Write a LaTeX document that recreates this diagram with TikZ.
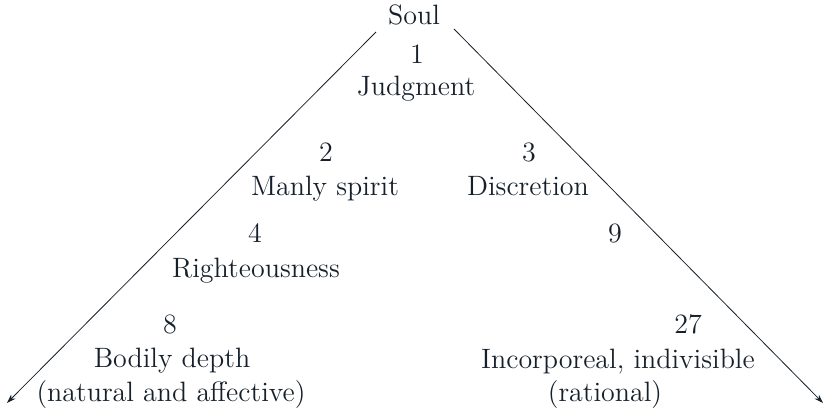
\documentclass[tikz,border=0pt]{standalone}
\usetikzlibrary{arrows.meta}
\definecolor{ink}{HTML}{15202B}
\begin{document}
\begin{tikzpicture}[x=0.5pt,y=-0.5pt,
  lbl/.style={inner sep=0pt,anchor=base,font=\fontsize{14}{16}\selectfont,text=ink},
  branch/.style={draw=ink,line width=0.4pt,-{Stealth[length=4.5pt,width=3pt]}}]
\useasboundingbox (0,0) rectangle (825,410);
\node[lbl] (soul) at (414,25) {Soul};
\node[lbl] (n1) at (417,64) {1};
\node[lbl] (judg) at (416,96) {Judgment};
\node[lbl] (n2) at (326,162) {2};
\node[lbl] (manly) at (325,196) {Manly spirit};
\node[lbl] (n3) at (529,162) {3};
\node[lbl] (disc) at (528,196) {Discretion};
\node[lbl] (n4) at (255,243) {4};
\node[lbl] (right) at (256,278) {Righteousness};
\node[lbl] (n9) at (615,243) {9};
\node[lbl] (n8) at (170,334) {8};
\node[lbl] (bodily) at (172,368) {Bodily depth};
\node[lbl] (nat) at (171,402) {(natural and affective)};
\node[lbl] (n27) at (688,334) {27};
\node[lbl] (incorp) at (618,369) {Incorporeal, indivisible};
\node[lbl] (rat) at (605,402) {(rational)};
\coordinate (ltop) at (376,32);
\coordinate (lend) at (7,403);
\coordinate (rtop) at (454,29);
\coordinate (rend) at (823,403);
\draw[branch] (ltop) -- (lend);
\draw[branch] (rtop) -- (rend);
\end{tikzpicture}
\end{document}
